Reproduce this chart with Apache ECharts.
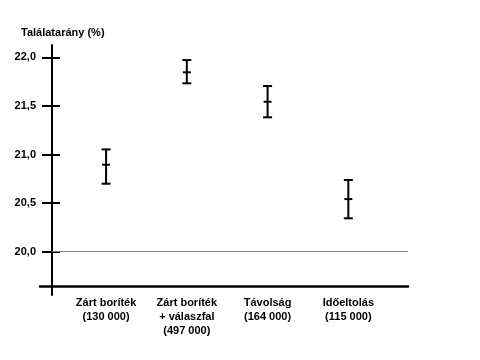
<!DOCTYPE html>
<html><head><meta charset="utf-8">
<script src="https://cdn.jsdelivr.net/npm/echarts@6/dist/echarts.min.js"></script>
<style>html,body{margin:0;padding:0;background:#fff}#c{width:480px;height:360px}</style>
</head><body><div id="c"></div>
<script>
const categories = ['Zárt boríték\n(130 000)', 'Zárt boríték\n+ válaszfal\n(497 000)', 'Távolság\n(164 000)', 'Időeltolás\n(115 000)'];
const meanValues = [20.895, 21.846, 21.543, 20.542];
const upperValues = [21.053, 21.972, 21.705, 20.738];
const lowerValues = [20.700, 21.733, 21.383, 20.344];
const yTicks = [20.0, 20.5, 21.0, 21.5, 22.0];
const yTitle = 'Találatarány (%)';
const referenceLine = 20.0;

const Y_MIN = 19.555, Y_MAX = 22.127;
const FONT = 'Liberation Sans, Arial, sans-serif';

const chart = echarts.init(document.getElementById('c'), null, {renderer: 'canvas'});
const errData = categories.map((c, i) => [i, lowerValues[i], meanValues[i], upperValues[i]]);

chart.setOption({
  animation: false,
  backgroundColor: '#fff',
  title: {
    text: yTitle, left: 21, top: 27, padding: 0,
    textStyle: {fontFamily: FONT, fontSize: 11, fontWeight: 'bold', color: '#000'}
  },
  grid: [
    {left: 52, top: 45, width: 356, height: 250},
    {left: 40, top: 45, width: 368, height: 241},
    {left: 65.7, top: 45, width: 323, height: 250}
  ],
  xAxis: [
    {gridIndex: 0, type: 'value', min: 0, max: 1, show: false},
    {gridIndex: 1, type: 'value', min: 0, max: 1,
      axisLine: {show: true, lineStyle: {color: '#000', width: 2.5}},
      axisTick: {show: false}, axisLabel: {show: false}, splitLine: {show: false}},
    {gridIndex: 2, type: 'category', data: categories, boundaryGap: true,
      axisLine: {show: false}, axisTick: {show: false}, splitLine: {show: false},
      axisLabel: {margin: 1, fontFamily: FONT, fontSize: 11, fontWeight: 'bold', color: '#000', lineHeight: 14, interval: 0}}
  ],
  yAxis: [
    {gridIndex: 0, type: 'value', min: Y_MIN, max: Y_MAX,
      axisLine: {show: true, lineStyle: {color: '#000', width: 2}},
      axisTick: {show: true, customValues: yTicks, length: 10, lineStyle: {color: '#000', width: 2}},
      axisLabel: {customValues: yTicks, margin: 16, fontFamily: FONT, fontSize: 11, fontWeight: 'bold', color: '#000',
        formatter: v => v.toFixed(1).replace('.', ',')},
      splitLine: {show: false}},
    {gridIndex: 0, type: 'value', min: Y_MIN, max: Y_MAX, position: 'left',
      axisLine: {show: false},
      axisTick: {show: true, inside: true, customValues: yTicks, length: 8, lineStyle: {color: '#000', width: 2}},
      axisLabel: {show: false}, splitLine: {show: false}},
    {gridIndex: 1, type: 'value', show: false, min: 0, max: 1},
    {gridIndex: 2, type: 'value', show: false, min: Y_MIN, max: Y_MAX}
  ],
  series: [
    {type: 'line', xAxisIndex: 0, yAxisIndex: 0, data: [], silent: true,
      markLine: {silent: true, symbol: 'none', label: {show: false},
        lineStyle: {color: '#808080', width: 1, type: 'solid'},
        data: [{yAxis: referenceLine}]}},
    {type: 'custom', xAxisIndex: 2, yAxisIndex: 3, data: errData,
      encode: {x: 0, y: [1, 2, 3]},
      renderItem: function (params, api) {
        const i = api.value(0);
        const lo = api.coord([i, api.value(1)]);
        const mid = api.coord([i, api.value(2)]);
        const hi = api.coord([i, api.value(3)]);
        const cap = 4.5, tick = 4;
        const st = {stroke: '#000', lineWidth: 2};
        return {type: 'group', children: [
          {type: 'line', shape: {x1: lo[0], y1: lo[1], x2: hi[0], y2: hi[1]}, style: st},
          {type: 'line', shape: {x1: hi[0] - cap, y1: hi[1], x2: hi[0] + cap, y2: hi[1]}, style: st},
          {type: 'line', shape: {x1: lo[0] - cap, y1: lo[1], x2: lo[0] + cap, y2: lo[1]}, style: st},
          {type: 'line', shape: {x1: mid[0] - tick, y1: mid[1], x2: mid[0] + tick, y2: mid[1]}, style: st}
        ]};
      }}
  ]
});
</script></body></html>
